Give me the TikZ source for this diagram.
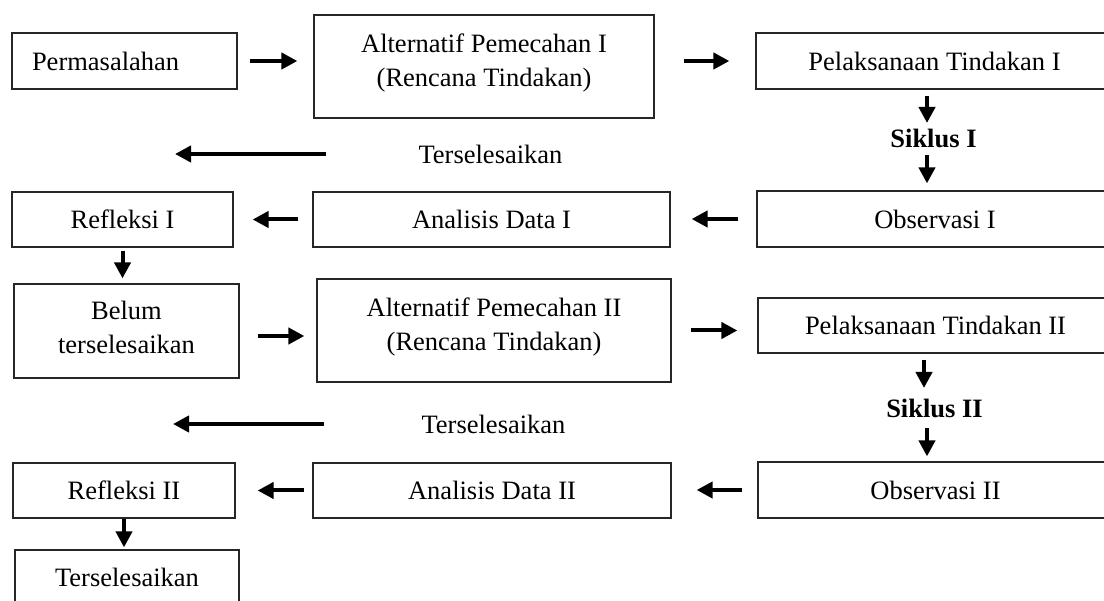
\documentclass[tikz,border=0pt]{standalone}
\usepackage{fontspec}
\setmainfont{Liberation Serif}
\usetikzlibrary{arrows.meta,calc}
\begin{document}
\begin{tikzpicture}[x=1pt,y=-1pt,
 box/.style={draw=black!85, line width=1.2pt, inner sep=0pt, align=center,
   font=\fontsize{26.5pt}{34pt}\selectfont},
 txt/.style={inner sep=0pt, font=\fontsize{26.5pt}{34pt}\selectfont},
 arr/.style={line width=4pt, -{Triangle[length=16pt,width=16pt]}}]
\clip (0,0) rectangle (1104,601);
% row 1
\node[box, minimum width=225pt, minimum height=56pt, text width=185pt, align=left] (perm) at (124.5,61) {Permasalahan};
\node[box, minimum width=340pt, minimum height=103pt, text depth=12pt] (alt1) at (484,66.5) {Alternatif Pemecahan I\\(Rencana Tindakan)};
\node[box, minimum width=357pt, minimum height=56pt] (pel1) at (934.5,61) {Pelaksanaan Tindakan I};
\node[txt, font=\fontsize{26.5pt}{34pt}\selectfont\bfseries] (s1) at (933.5,138) {Siklus I};
\node[txt] (t1) at (490.5,154) {Terselesaikan};
\coordinate (e1) at (175,154);
% row 2
\node[box, minimum width=357pt, minimum height=55pt] (ana1) at (491.5,219.5) {Analisis Data I};
\node[box, minimum width=356pt, minimum height=56pt] (obs1) at (935,219) {Observasi I};
\node[box, minimum width=221pt, minimum height=55pt] (ref1) at (122.5,219.5) {Refleksi I};
% row 3
\node[box, minimum width=225pt, minimum height=94pt, text depth=8pt] (belum) at (126.5,331) {Belum\\terselesaikan};
\node[box, minimum width=354pt, minimum height=103pt, text depth=12pt] (alt2) at (494,330.5) {Alternatif Pemecahan II\\(Rencana Tindakan)};
\node[box, minimum width=355pt, minimum height=55pt] (pel2) at (935.5,325.5) {Pelaksanaan Tindakan II};
\node[txt, font=\fontsize{26.5pt}{34pt}\selectfont\bfseries] (s2) at (934.5,408) {Siklus II};
\node[txt] (t2) at (493.5,424) {Terselesaikan};
\coordinate (e2) at (173,424);
% row 4
\node[box, minimum width=355pt, minimum height=56pt] (obs2) at (935.5,490) {Observasi II};
\node[box, minimum width=358pt, minimum height=55pt] (ana2) at (492,490.5) {Analisis Data II};
\node[box, minimum width=222pt, minimum height=55pt] (ref2) at (124,490.5) {Refleksi II};
\node[box, minimum width=224pt, minimum height=55pt] (ters) at (127,577.5) {Terselesaikan};
% helper coordinates
\coordinate (c1) at ($(s1)+(-6.5,0)$);
\coordinate (c2a) at ($(s2)+(-10.5,0)$);
\coordinate (c2b) at ($(s2)+(-7.5,0)$);
\coordinate (c3) at ($(belum.east)+(0,5)$);
% connectors
\draw[arr, shorten <=12pt, shorten >=16pt] (perm.east) -- (perm.east -| alt1.west);
\draw[arr, shorten <=29pt, shorten >=26pt] (alt1.east |- pel1.west) -- (pel1.west);
\draw[arr, shorten <=6pt, shorten >=15pt] (c1 |- pel1.south) -- (c1);
\draw[arr, shorten <=17pt, shorten >=7pt] (c1) -- (c1 |- obs1.north);
\draw[arr, shorten <=92pt] (t1.west) -- (e1);
\draw[arr, shorten <=18pt, shorten >=21pt] (obs1.west) -- (obs1.west -| ana1.east);
\draw[arr, shorten <=14pt, shorten >=19pt] (ana1.west) -- (ana1.west -| ref1.east);
\draw[arr, shorten <=3pt, shorten >=5pt] (ref1.south) -- (ref1.south |- belum.north);
\draw[arr, shorten <=18pt, shorten >=12pt] (c3) -- (c3 -| alt2.west);
\draw[arr, shorten <=19pt, shorten >=20pt] (alt2.east) -- (alt2.east -| pel2.west);
\draw[arr, shorten <=6pt, shorten >=20pt] (c2a |- pel2.south) -- (c2a);
\draw[arr, shorten <=20pt, shorten >=5pt] (c2b) -- (c2b |- obs2.north);
\draw[arr, shorten <=97.5pt] (t2.west) -- (e2);
\draw[arr, shorten <=15pt, shorten >=25pt] (obs2.west) -- (obs2.west -| ana2.east);
\draw[arr, shorten <=8pt, shorten >=22pt] (ana2.west) -- (ana2.west -| ref2.east);
\draw[arr, shorten >=2pt] (ref2.south) -- (ref2.south |- ters.north);
\end{tikzpicture}
\end{document}
